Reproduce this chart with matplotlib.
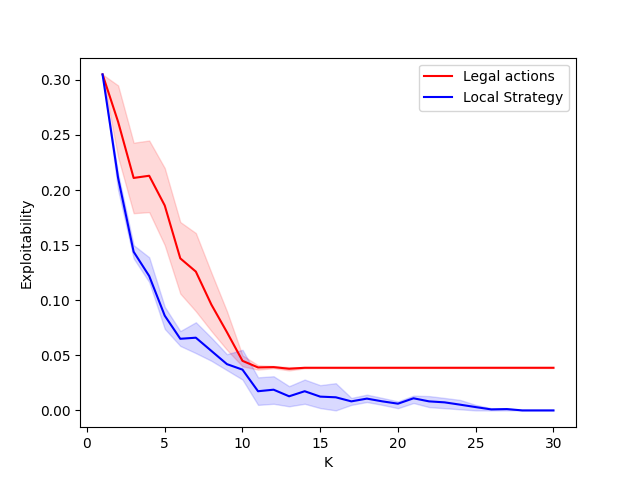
import numpy as np
import matplotlib
matplotlib.use("Agg")
import matplotlib.pyplot as plt

K = np.arange(1, 31)

# Legal actions: mean and band
legal_mean = [0.305, 0.262, 0.211, 0.213, 0.186, 0.138, 0.126, 0.096, 0.071, 0.045,
              0.039, 0.0393, 0.0378, 0.0387, 0.0387, 0.0387, 0.0387, 0.0387, 0.0387, 0.0387,
              0.0387, 0.0387, 0.0387, 0.0387, 0.0387, 0.0387, 0.0387, 0.0387, 0.0387, 0.0387]
legal_hi = [0.305, 0.295, 0.243, 0.245, 0.220, 0.171, 0.161, 0.125, 0.090, 0.050,
            0.041, 0.0403, 0.0393, 0.0392, 0.039, 0.039, 0.039, 0.039, 0.039, 0.039,
            0.039, 0.039, 0.039, 0.039, 0.039, 0.039, 0.039, 0.039, 0.039, 0.039]
legal_lo = [0.305, 0.230, 0.179, 0.180, 0.150, 0.106, 0.090, 0.072, 0.055, 0.040,
            0.037, 0.0383, 0.0363, 0.0382, 0.0384, 0.0384, 0.0384, 0.0384, 0.0384, 0.0384,
            0.0384, 0.0384, 0.0384, 0.0384, 0.0384, 0.0384, 0.0384, 0.0384, 0.0384, 0.0384]

# Local Strategy: mean and band
local_mean = [0.305, 0.211, 0.144, 0.122, 0.086, 0.065, 0.066, 0.054, 0.042, 0.037,
              0.0174, 0.0188, 0.0128, 0.0174, 0.0125, 0.0119, 0.0082, 0.0107, 0.0082, 0.0061,
              0.011, 0.0082, 0.0073, 0.0052, 0.003, 0.0009, 0.0012, 0.0, 0.0, 0.0]
local_hi = [0.305, 0.215, 0.150, 0.139, 0.094, 0.072, 0.080, 0.066, 0.051, 0.055,
            0.030, 0.031, 0.022, 0.028, 0.0229, 0.0247, 0.0113, 0.0143, 0.0113, 0.0082,
            0.0134, 0.013, 0.0113, 0.0095, 0.005, 0.002, 0.002, 0.0, 0.0, 0.0]
local_lo = [0.305, 0.200, 0.138, 0.1165, 0.074, 0.0585, 0.052, 0.045, 0.0365, 0.028,
            0.005, 0.006, 0.0037, 0.006, 0.0021, 0.0, 0.005, 0.0076, 0.005, 0.002,
            0.0067, 0.003, 0.002, 0.001, 0.0, 0.0, 0.0, 0.0, 0.0, 0.0]

fig, ax = plt.subplots(figsize=(6.4, 4.8), dpi=100)
ax.plot(K, legal_mean, color='red', label='Legal actions')
ax.fill_between(K, legal_lo, legal_hi, color='red', alpha=0.15)
ax.plot(K, local_mean, color='blue', label='Local Strategy')
ax.fill_between(K, local_lo, local_hi, color='blue', alpha=0.15)
ax.set_xlabel('K')
ax.set_ylabel('Exploitability')
ax.legend(loc='upper right')
fig.savefig('out.png')
